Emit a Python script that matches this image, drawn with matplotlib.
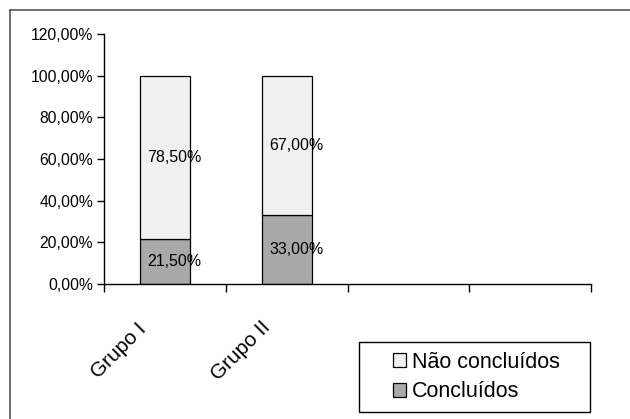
import matplotlib.pyplot as plt
import numpy as np
from matplotlib.lines import Line2D
from matplotlib.patches import Rectangle
from matplotlib.transforms import ScaledTranslation

plt.rcParams["font.family"] = ["Liberation Sans", "DejaVu Sans"]

categorias = ["Grupo I", "Grupo II", "", ""]
concluidos = [21.5, 33.0]
nao_concluidos = [78.5, 67.0]
y_ticks = [0, 20, 40, 60, 80, 100, 120]


def fmt_pct(v):
    return f"{v:.2f}%".replace(".", ",")


W, H = 630, 419
fig = plt.figure(figsize=(6.3, 4.19), dpi=100)
ax = fig.add_axes([104 / W, 1 - 284 / H, (591 - 104) / W, (284 - 34) / H])

x = np.arange(len(concluidos))
w = 0.41

ax.bar(x, concluidos, width=w, color="#a9a9a9", edgecolor="black", linewidth=0.9,
       label="Concluídos")
ax.bar(x, nao_concluidos, width=w, bottom=concluidos, color="#f0f0f0",
       edgecolor="black", linewidth=0.9, label="Não concluídos")

for xi, c, n in zip(x, concluidos, nao_concluidos):
    ax.text(xi + 0.08, c / 2, fmt_pct(c), ha="center", va="center", fontsize=11.5)
    ax.text(xi + 0.08, c + n / 2, fmt_pct(n), ha="center", va="center", fontsize=11.5)

ax.set_xlim(-0.5, len(categorias) - 0.5)
ax.set_ylim(0, 120)
ax.set_yticks(y_ticks)
ax.set_yticklabels([fmt_pct(v) for v in y_ticks], fontsize=11.3)

ax.set_xticks(np.arange(len(categorias) + 1) - 0.5)
ax.set_xticklabels([])
ax.set_xticks(np.arange(len(categorias)), minor=True)
ax.set_xticklabels(categorias, minor=True, rotation=45, ha="center", va="center",
                   rotation_mode="anchor", fontsize=15)
ax.tick_params(axis="x", which="minor", length=0, pad=48)
ax.tick_params(axis="x", which="major", length=6, width=1)
ax.tick_params(axis="y", length=5, width=1, pad=3)

# desloca os rótulos inclinados para a esquerda
shift = ScaledTranslation(-46 / 100, 0, fig.dpi_scale_trans)
for lbl in ax.get_xticklabels(minor=True):
    lbl.set_transform(lbl.get_transform() + shift)

for s in ["top", "right"]:
    ax.spines[s].set_visible(False)
for s in ["left", "bottom"]:
    ax.spines[s].set_linewidth(1)

# legenda com moldura própria
lx0, lx1, ly0, ly1 = 359, 590, 342, 412
fig.add_artist(Rectangle((lx0 / W, 1 - ly1 / H), (lx1 - lx0) / W, (ly1 - ly0) / H,
                         transform=fig.transFigure, facecolor="white",
                         edgecolor="black", linewidth=1))
handles, labels = ax.get_legend_handles_labels()
leg = fig.legend(handles[::-1], labels[::-1], loc="center",
                 bbox_to_anchor=((lx0 + lx1) / 2 / W + 0.003, 1 - (ly0 + ly1) / 2 / H),
                 fontsize=15.5, frameon=False,
                 handlelength=0.6, handleheight=0.6, handletextpad=0.3,
                 labelspacing=0.4, borderpad=0.2, borderaxespad=0)

# borda da área do gráfico (só topo e esquerda visíveis)
fig.add_artist(Line2D([10 / W, 1], [1 - 10 / H, 1 - 10 / H],
                      transform=fig.transFigure, color="#555555", linewidth=1.2))
fig.add_artist(Line2D([10 / W, 10 / W], [0, 1 - 10 / H],
                      transform=fig.transFigure, color="#555555", linewidth=1.2))

fig.savefig("out.png", dpi=100)
